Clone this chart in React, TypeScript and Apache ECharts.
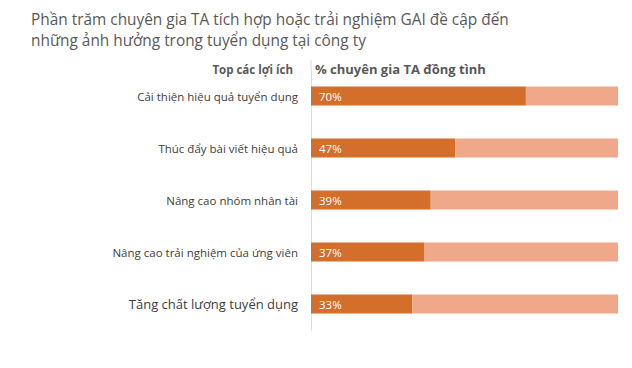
import React, { useEffect, useRef } from "react";
import * as echarts from "echarts";

const categories = [
  "Cải thiện hiệu quả tuyển dụng",
  "Thúc đẩy bài viết hiệu quả",
  "Nâng cao nhóm nhân tài",
  "Nâng cao trải nghiệm của ứng viên",
  "Tăng chất lượng tuyển dụng",
];
const values = [70, 47, 39, 37, 33];
const remainder = values.map((v) => 100 - v);

const FONT = "'Open Sans', 'Noto Sans', sans-serif";

export default function App() {
  const ref = useRef<HTMLDivElement>(null);
  useEffect(() => {
    const chart = echarts.init(ref.current!, null, { renderer: "svg" });
    chart.setOption({
      animation: false,
      backgroundColor: "#ffffff",
      textStyle: { fontFamily: FONT },
      title: {
        text: "Phần trăm chuyên gia TA tích hợp hoặc trải nghiệm GAI đề cập đến\nnhững ảnh hưởng trong tuyển dụng tại công ty",
        left: 23,
        top: 1,
        padding: 0,
        textStyle: { fontFamily: FONT, fontSize: 15.4, fontWeight: "normal", color: "#595959", lineHeight: 21 },
      },
      graphic: [
        {
          type: "text",
          right: 632 - 8 - 293,
          top: 55,
          style: { text: "Top các lợi ích", font: `bold 11.5px ${FONT}`, fill: "#595959", textAlign: "right" },
        },
        {
          type: "text",
          left: 307,
          top: 54,
          style: { text: "% chuyên gia TA đồng tình", font: `bold 13px ${FONT}`, fill: "#595959" },
        },
        {
          type: "line",
          shape: { x1: 303, y1: 52, x2: 303, y2: 62 },
          style: { stroke: "#d9d9d9", lineWidth: 1 },
        },
      ],
      grid: { left: 303, right: 6, top: 62, height: 260 },
      xAxis: {
        type: "value",
        min: 0,
        max: 100,
        show: false,
      },
      yAxis: {
        type: "category",
        data: categories,
        inverse: true,
        axisTick: { show: false },
        axisLine: { show: true, lineStyle: { color: "#d9d9d9" } },
        axisLabel: {
          margin: 13,
          color: "#404040",
          fontFamily: FONT,
          fontSize: 11.5,
          formatter: (v: string) => (v === categories[4] ? `{big|${v}}` : v),
          rich: { big: { fontSize: 13, color: "#404040", fontFamily: FONT } },
        },
      },
      series: [
        {
          type: "bar",
          stack: "a",
          data: values,
          barWidth: 19,
          itemStyle: { color: "#D36F2B" },
          label: {
            show: true,
            position: "insideLeft",
            distance: 8,
            formatter: "{c}%",
            color: "#ffffff",
            fontFamily: FONT,
            fontSize: 11.5,
          },
        },
        {
          type: "bar",
          stack: "a",
          data: remainder,
          barWidth: 19,
          itemStyle: { color: "#F0A88A" },
        },
      ],
    });
    return () => chart.dispose();
  }, []);
  return <div ref={ref} style={{ width: 616, height: 352 }} />;
}
